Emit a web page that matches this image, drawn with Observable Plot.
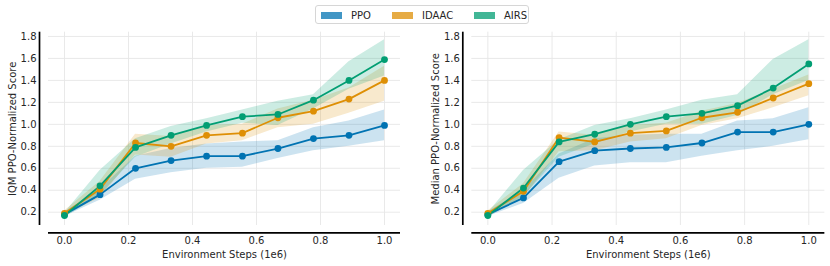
<!DOCTYPE html>
<html>
<head>
<meta charset="utf-8">
<script src="https://cdn.jsdelivr.net/npm/d3@7"></script>
<script src="https://cdn.jsdelivr.net/npm/@observablehq/plot@0.6"></script>
<style>
  html, body { margin: 0; padding: 0; background: #fff; }
  body { width: 830px; height: 266px; overflow: hidden; font-family: "DejaVu Sans", sans-serif; }
  #header { position: relative; height: 28px; }
  #legend { position: absolute; left: 315px; top: 5px; width: 214px; height: 19px;
            border: 1px solid #d6d6d6; border-radius: 3px; box-sizing: border-box; }
  .item { position: absolute; top: 0; height: 19px; display: flex; align-items: center; font-size: 10px; color: #262626; }
  .patch { width: 21px; height: 7px; margin-right: 9px; }
  #row { display: flex; }
  #row svg { display: block; }
</style>
</head>
<body>
<div id="header"><div id="legend"></div></div>
<div id="row"></div>
<script>
// ---- data ----
const methods = ["PPO", "IDAAC", "AIRS"];
const colors = ["#0173b2", "#de8f05", "#029e73"];
const steps = [0, 0.111, 0.222, 0.333, 0.444, 0.556, 0.667, 0.778, 0.889, 1.0];
const xTicks = [0, 0.2, 0.4, 0.6, 0.8, 1.0];
const yTicks = [0.2, 0.4, 0.6, 0.8, 1.0, 1.2, 1.4, 1.6, 1.8];

// IQM
const iqmPPO     = [0.18, 0.36, 0.60, 0.67, 0.71, 0.71, 0.78, 0.87, 0.90, 0.99];
const iqmPPOLo   = [0.16, 0.31, 0.50, 0.56, 0.60, 0.61, 0.69, 0.76, 0.80, 0.85];
const iqmPPOHi   = [0.20, 0.41, 0.71, 0.78, 0.82, 0.84, 0.85, 0.97, 1.03, 1.13];
const iqmIDAAC   = [0.19, 0.41, 0.83, 0.80, 0.90, 0.92, 1.06, 1.12, 1.23, 1.40];
const iqmIDAACLo = [0.17, 0.33, 0.72, 0.70, 0.82, 0.85, 0.97, 1.00, 1.10, 1.21];
const iqmIDAACHi = [0.21, 0.48, 0.91, 0.89, 0.99, 1.00, 1.14, 1.22, 1.33, 1.53];
const iqmAIRS    = [0.17, 0.44, 0.79, 0.90, 0.99, 1.07, 1.09, 1.22, 1.40, 1.59];
const iqmAIRSLo  = [0.15, 0.35, 0.70, 0.82, 0.93, 1.01, 0.99, 1.14, 1.32, 1.44];
const iqmAIRSHi  = [0.19, 0.58, 0.87, 0.98, 1.05, 1.13, 1.21, 1.27, 1.57, 1.77];

// Median
const medPPO     = [0.18, 0.33, 0.66, 0.76, 0.78, 0.79, 0.83, 0.93, 0.93, 1.00];
const medPPOLo   = [0.16, 0.28, 0.51, 0.62, 0.65, 0.65, 0.71, 0.76, 0.80, 0.86];
const medPPOHi   = [0.20, 0.40, 0.73, 0.87, 0.90, 0.91, 0.91, 1.03, 1.05, 1.15];
const medIDAAC   = [0.19, 0.39, 0.88, 0.84, 0.92, 0.94, 1.06, 1.11, 1.24, 1.37];
const medIDAACLo = [0.17, 0.33, 0.75, 0.76, 0.84, 0.87, 0.99, 1.05, 1.15, 1.26];
const medIDAACHi = [0.21, 0.46, 0.93, 0.90, 0.99, 1.01, 1.12, 1.19, 1.32, 1.45];
const medAIRS    = [0.17, 0.42, 0.84, 0.91, 1.00, 1.07, 1.10, 1.17, 1.33, 1.55];
const medAIRSLo  = [0.15, 0.34, 0.70, 0.82, 0.93, 1.00, 1.00, 1.08, 1.27, 1.40];
const medAIRSHi  = [0.19, 0.58, 0.86, 0.99, 1.05, 1.13, 1.22, 1.27, 1.59, 1.77];

// ---- build tidy tables ----
function rows(mid, lo, hi) {
  return mid.map((arr, k) => steps.map((s, i) => ({
    method: methods[k], step: s, v: arr[i], lo: lo[k][i], hi: hi[k][i]
  }))).flat();
}
const iqmRows = rows([iqmPPO, iqmIDAAC, iqmAIRS], [iqmPPOLo, iqmIDAACLo, iqmAIRSLo], [iqmPPOHi, iqmIDAACHi, iqmAIRSHi]);
const medRows = rows([medPPO, medIDAAC, medAIRS], [medPPOLo, medIDAACLo, medAIRSLo], [medPPOHi, medIDAACHi, medAIRSHi]);

const xDomain = [-0.05, 1.05];
const yDomain = [0.079, 1.839];

function panel(data, ylabel, marginLeft, marginRight) {
  return Plot.plot({
    width: 415, height: 238,
    marginLeft, marginRight, marginTop: 3.7, marginBottom: 41,
    style: { fontFamily: "DejaVu Sans", fontSize: "10px", color: "#262626", background: "white", overflow: "visible" },
    x: { domain: xDomain },
    y: { domain: yDomain },
    color: { domain: methods, range: colors },
    marks: [
      Plot.gridX(xTicks, { stroke: "#e6e6e6", strokeOpacity: 1, strokeWidth: 0.9 }),
      Plot.gridY(yTicks, { stroke: "#e6e6e6", strokeOpacity: 1, strokeWidth: 0.9 }),
      Plot.areaY(data, { x: "step", y1: "lo", y2: "hi", fill: "method", fillOpacity: 0.2, z: "method" }),
      Plot.line(data, { x: "step", y: "v", stroke: "method", strokeWidth: 1.8, z: "method" }),
      Plot.dot(data, { x: "step", y: "v", fill: "method", r: 3.4 }),
      Plot.axisX({ ticks: xTicks, tickSize: 0, tickPadding: 11, tickFormat: d3.format(".1f"), label: null }),
      Plot.axisY({ ticks: yTicks, tickSize: 0, tickPadding: 12, tickFormat: d3.format(".1f"), label: null }),
      Plot.ruleY([yDomain[0]], { x1: xDomain[0], x2: xDomain[1], dy: 7.3, stroke: "black", strokeWidth: 1.7 }),
      Plot.ruleX([xDomain[0]], { y1: yDomain[0], y2: yDomain[1], dx: -9, stroke: "black", strokeWidth: 1.7 }),
      Plot.text(["Environment Steps (1e6)"], { frameAnchor: "bottom", dy: 29, lineAnchor: "middle", fill: "#262626", fontSize: 10 }),
      Plot.text([ylabel], { frameAnchor: "left", dx: -36, rotate: -90, lineAnchor: "middle", textAnchor: "middle", fill: "#262626", fontSize: 10 })
    ]
  });
}

const row = document.getElementById("row");
row.appendChild(panel(iqmRows, "IQM PPO-Normalized Score", 48, 15));
row.appendChild(panel(medRows, "Median PPO-Normalized Score", 56.3, 5.65));

// legend
const legend = document.getElementById("legend");
const itemLeft = [5, 76, 158];
methods.forEach((m, i) => {
  const it = document.createElement("div");
  it.className = "item";
  it.style.left = itemLeft[i] + "px";
  const p = document.createElement("div");
  p.className = "patch";
  p.style.background = colors[i];
  p.style.opacity = 0.75;
  const t = document.createElement("span");
  t.textContent = m;
  it.appendChild(p); it.appendChild(t);
  legend.appendChild(it);
});
</script>
</body>
</html>
